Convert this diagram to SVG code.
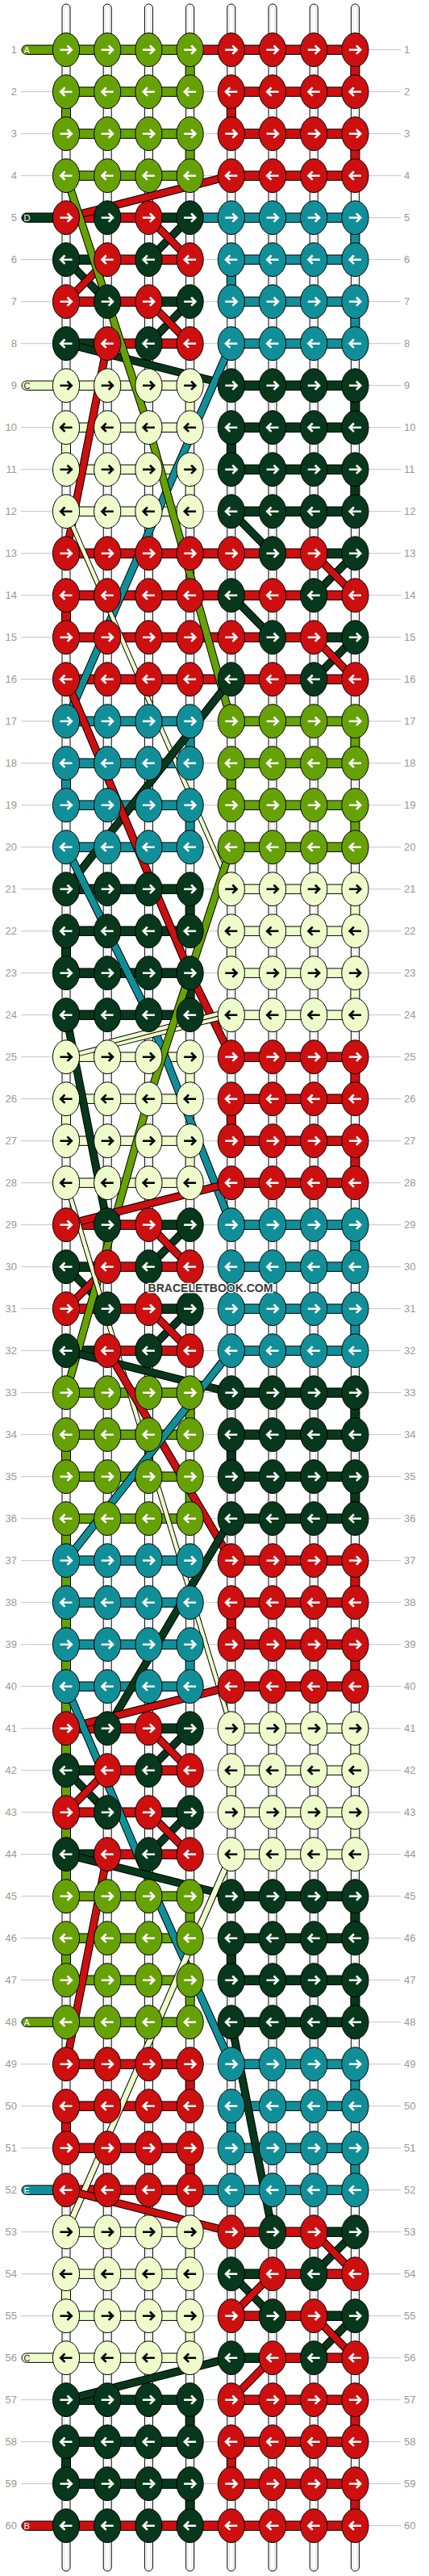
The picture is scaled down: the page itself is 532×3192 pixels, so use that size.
<svg xmlns="http://www.w3.org/2000/svg" xmlns:xlink="http://www.w3.org/1999/xlink" width="532" height="3192" viewBox="0 0 532 3192">
<style>
.bt{fill:#fff;stroke:#000;stroke-width:1}
.bi{fill:none;stroke:#e2e2e2;stroke-width:1}
.rl{fill:none;stroke:#c4c4c4;stroke-width:1}
.G{fill:#66a105}.R{fill:#cd0f0f}.D{fill:#07381b}.T{fill:#118f99}.Y{fill:#eefccb;color:#000}
.c{stroke:#000;stroke-width:1}
.o{fill:none;stroke:#000;stroke-width:10;stroke-linejoin:round}
.lG{fill:none;stroke:#66a105;stroke-width:8;stroke-linejoin:round}
.lR{fill:none;stroke:#cd0f0f;stroke-width:8;stroke-linejoin:round}
.lD{fill:none;stroke:#07381b;stroke-width:8;stroke-linejoin:round}
.lT{fill:none;stroke:#118f99;stroke-width:8;stroke-linejoin:round}
.ot{fill:none;stroke:#000;stroke-width:6.5}
.lY{fill:none;stroke:#eefccb;stroke-width:4.5}
.num{font-family:"Liberation Sans",Arial,sans-serif;font-size:13px;fill:#999}
.ln{text-anchor:end}
.lab{font-family:"Liberation Sans",Arial,sans-serif;font-size:11px;fill:#fff}
.wm{font-family:"Liberation Sans",Arial,sans-serif;font-weight:bold;font-size:14px;fill:#3a3a3a;stroke:#fff;stroke-width:2.5;paint-order:stroke;text-anchor:middle}
</style>
<defs>
<g id="kr"><ellipse rx="16.6" ry="20.9" stroke="#000" stroke-width="1"/><path d="M-7.5,0H6M1.5,-5.2L6.8,0L1.5,5.2" fill="none" stroke="currentColor" stroke-width="2.6"/></g>
<g id="kl"><ellipse rx="16.6" ry="20.9" stroke="#000" stroke-width="1"/><path d="M7.5,0H-6M-1.5,-5.2L-6.8,0L-1.5,5.2" fill="none" stroke="currentColor" stroke-width="2.6"/></g>
</defs>
<rect width="532" height="3192" fill="#fff"/>
<g id="guides">
<path class="rl" d="M26,61.7H497M26,113.7H497M26,165.7H497M26,217.7H497M26,269.7H497M26,321.7H497M26,373.7H497M26,425.7H497M26,477.7H497M26,529.7H497M26,581.7H497M26,633.7H497M26,685.7H497M26,737.7H497M26,789.7H497M26,841.7H497M26,893.7H497M26,945.7H497M26,997.7H497M26,1049.7H497M26,1101.7H497M26,1153.7H497M26,1205.7H497M26,1257.7H497M26,1309.7H497M26,1361.7H497M26,1413.7H497M26,1465.7H497M26,1517.7H497M26,1569.7H497M26,1621.7H497M26,1673.7H497M26,1725.7H497M26,1777.7H497M26,1829.7H497M26,1881.7H497M26,1933.7H497M26,1985.7H497M26,2037.7H497M26,2089.7H497M26,2141.7H497M26,2193.7H497M26,2245.7H497M26,2297.7H497M26,2349.7H497M26,2401.7H497M26,2453.7H497M26,2505.7H497M26,2557.7H497M26,2609.7H497M26,2661.7H497M26,2713.7H497M26,2765.7H497M26,2817.7H497M26,2869.7H497M26,2921.7H497M26,2973.7H497M26,3025.7H497M26,3077.7H497M26,3129.7H497"/>
</g>
<g id="base-threads">
<rect class="bt" x="77" y="5" width="10" height="3181" rx="5"/><rect class="bi" x="79.5" y="8" width="5" height="3175" rx="2.5"/>
<rect class="bt" x="128.2" y="5" width="10" height="3181" rx="5"/><rect class="bi" x="130.7" y="8" width="5" height="3175" rx="2.5"/>
<rect class="bt" x="179.4" y="5" width="10" height="3181" rx="5"/><rect class="bi" x="181.9" y="8" width="5" height="3175" rx="2.5"/>
<rect class="bt" x="230.6" y="5" width="10" height="3181" rx="5"/><rect class="bi" x="233.1" y="8" width="5" height="3175" rx="2.5"/>
<rect class="bt" x="281.8" y="5" width="10" height="3181" rx="5"/><rect class="bi" x="284.3" y="8" width="5" height="3175" rx="2.5"/>
<rect class="bt" x="333" y="5" width="10" height="3181" rx="5"/><rect class="bi" x="335.5" y="8" width="5" height="3175" rx="2.5"/>
<rect class="bt" x="384.2" y="5" width="10" height="3181" rx="5"/><rect class="bi" x="386.7" y="8" width="5" height="3175" rx="2.5"/>
<rect class="bt" x="435.4" y="5" width="10" height="3181" rx="5"/><rect class="bi" x="437.9" y="8" width="5" height="3175" rx="2.5"/>
</g>
<g id="labels">
<g id="strand-A1"><rect class="c G" x="27" y="56" width="50" height="11.4" rx="5.7"/><text class="lab" x="29.5" y="65.7">A</text></g>
<g id="strand-D5"><rect class="c D" x="27" y="264" width="50" height="11.4" rx="5.7"/><text class="lab" x="29.5" y="273.7">D</text></g>
<g id="strand-C9"><rect class="c Y" x="27" y="472" width="50" height="11.4" rx="5.7"/><text class="lab" x="29.5" y="481.7" style="fill:#222">C</text></g>
<g id="strand-A48"><rect class="c G" x="27" y="2500" width="50" height="11.4" rx="5.7"/><text class="lab" x="29.5" y="2509.7">A</text></g>
<g id="strand-E52"><rect class="c T" x="27" y="2708" width="50" height="11.4" rx="5.7"/><text class="lab" x="29.5" y="2717.7">E</text></g>
<g id="strand-C56"><rect class="c Y" x="27" y="2916" width="50" height="11.4" rx="5.7"/><text class="lab" x="29.5" y="2925.7" style="fill:#222">C</text></g>
<g id="strand-B60"><rect class="c R" x="27" y="3124" width="50" height="11.4" rx="5.7"/><text class="lab" x="29.5" y="3133.7">B</text></g>
</g>
<g id="connectors">
<g id="horizontal">
<rect class="c G" x="82" y="56" width="153.6" height="11.4"/><rect class="c R" x="235.6" y="56" width="204.8" height="11.4"/>
<rect class="c G" x="82" y="108" width="153.6" height="11.4"/><rect class="c R" x="286.8" y="108" width="153.6" height="11.4"/>
<rect class="c G" x="82" y="160" width="153.6" height="11.4"/><rect class="c R" x="286.8" y="160" width="153.6" height="11.4"/>
<rect class="c G" x="82" y="212" width="153.6" height="11.4"/><rect class="c R" x="286.8" y="212" width="153.6" height="11.4"/>
<rect class="c R" x="82" y="264" width="102.4" height="11.4"/><rect class="c D" x="184.4" y="264" width="51.2" height="11.4"/><rect class="c T" x="235.6" y="264" width="204.8" height="11.4"/>
<rect class="c D" x="82" y="316" width="51.2" height="11.4"/><rect class="c R" x="133.2" y="316" width="102.4" height="11.4"/><rect class="c T" x="286.8" y="316" width="153.6" height="11.4"/>
<rect class="c R" x="82" y="368" width="102.4" height="11.4"/><rect class="c D" x="184.4" y="368" width="51.2" height="11.4"/><rect class="c T" x="286.8" y="368" width="153.6" height="11.4"/>
<rect class="c D" x="82" y="420" width="51.2" height="11.4"/><rect class="c R" x="133.2" y="420" width="102.4" height="11.4"/><rect class="c T" x="286.8" y="420" width="153.6" height="11.4"/>
<rect class="c Y" x="82" y="472" width="153.6" height="11.4"/><rect class="c D" x="286.8" y="472" width="153.6" height="11.4"/>
<rect class="c Y" x="82" y="524" width="153.6" height="11.4"/><rect class="c D" x="286.8" y="524" width="153.6" height="11.4"/>
<rect class="c Y" x="82" y="576" width="153.6" height="11.4"/><rect class="c D" x="286.8" y="576" width="153.6" height="11.4"/>
<rect class="c Y" x="82" y="628" width="153.6" height="11.4"/><rect class="c D" x="286.8" y="628" width="153.6" height="11.4"/>
<rect class="c R" x="82" y="680" width="307.2" height="11.4"/><rect class="c D" x="389.2" y="680" width="51.2" height="11.4"/>
<rect class="c R" x="82" y="732" width="358.4" height="11.4"/>
<rect class="c R" x="82" y="784" width="307.2" height="11.4"/><rect class="c D" x="389.2" y="784" width="51.2" height="11.4"/>
<rect class="c R" x="82" y="836" width="358.4" height="11.4"/>
<rect class="c T" x="82" y="888" width="153.6" height="11.4"/><rect class="c G" x="286.8" y="888" width="153.6" height="11.4"/>
<rect class="c T" x="82" y="940" width="153.6" height="11.4"/><rect class="c G" x="286.8" y="940" width="153.6" height="11.4"/>
<rect class="c T" x="82" y="992" width="153.6" height="11.4"/><rect class="c G" x="286.8" y="992" width="153.6" height="11.4"/>
<rect class="c T" x="82" y="1044" width="153.6" height="11.4"/><rect class="c G" x="286.8" y="1044" width="153.6" height="11.4"/>
<rect class="c D" x="82" y="1096" width="153.6" height="11.4"/><rect class="c Y" x="286.8" y="1096" width="153.6" height="11.4"/>
<rect class="c D" x="82" y="1148" width="153.6" height="11.4"/><rect class="c Y" x="286.8" y="1148" width="153.6" height="11.4"/>
<rect class="c D" x="82" y="1200" width="153.6" height="11.4"/><rect class="c Y" x="286.8" y="1200" width="153.6" height="11.4"/>
<rect class="c D" x="82" y="1252" width="153.6" height="11.4"/><rect class="c Y" x="286.8" y="1252" width="153.6" height="11.4"/>
<rect class="c Y" x="82" y="1304" width="153.6" height="11.4"/><rect class="c R" x="286.8" y="1304" width="153.6" height="11.4"/>
<rect class="c Y" x="82" y="1356" width="153.6" height="11.4"/><rect class="c R" x="286.8" y="1356" width="153.6" height="11.4"/>
<rect class="c Y" x="82" y="1408" width="153.6" height="11.4"/><rect class="c R" x="286.8" y="1408" width="153.6" height="11.4"/>
<rect class="c Y" x="82" y="1460" width="153.6" height="11.4"/><rect class="c R" x="286.8" y="1460" width="153.6" height="11.4"/>
<rect class="c R" x="82" y="1512" width="102.4" height="11.4"/><rect class="c D" x="184.4" y="1512" width="51.2" height="11.4"/><rect class="c T" x="286.8" y="1512" width="153.6" height="11.4"/>
<rect class="c D" x="82" y="1564" width="51.2" height="11.4"/><rect class="c R" x="133.2" y="1564" width="102.4" height="11.4"/><rect class="c T" x="286.8" y="1564" width="153.6" height="11.4"/>
<rect class="c R" x="82" y="1616" width="102.4" height="11.4"/><rect class="c D" x="184.4" y="1616" width="51.2" height="11.4"/><rect class="c T" x="286.8" y="1616" width="153.6" height="11.4"/>
<rect class="c D" x="82" y="1668" width="51.2" height="11.4"/><rect class="c R" x="133.2" y="1668" width="102.4" height="11.4"/><rect class="c T" x="286.8" y="1668" width="153.6" height="11.4"/>
<rect class="c G" x="82" y="1720" width="153.6" height="11.4"/><rect class="c D" x="286.8" y="1720" width="153.6" height="11.4"/>
<rect class="c G" x="82" y="1772" width="153.6" height="11.4"/><rect class="c D" x="286.8" y="1772" width="153.6" height="11.4"/>
<rect class="c G" x="82" y="1824" width="153.6" height="11.4"/><rect class="c D" x="286.8" y="1824" width="153.6" height="11.4"/>
<rect class="c G" x="82" y="1876" width="153.6" height="11.4"/><rect class="c D" x="286.8" y="1876" width="153.6" height="11.4"/>
<rect class="c T" x="82" y="1928" width="153.6" height="11.4"/><rect class="c R" x="286.8" y="1928" width="153.6" height="11.4"/>
<rect class="c T" x="82" y="1980" width="153.6" height="11.4"/><rect class="c R" x="286.8" y="1980" width="153.6" height="11.4"/>
<rect class="c T" x="82" y="2032" width="153.6" height="11.4"/><rect class="c R" x="286.8" y="2032" width="153.6" height="11.4"/>
<rect class="c T" x="82" y="2084" width="153.6" height="11.4"/><rect class="c R" x="286.8" y="2084" width="153.6" height="11.4"/>
<rect class="c R" x="82" y="2136" width="102.4" height="11.4"/><rect class="c D" x="184.4" y="2136" width="51.2" height="11.4"/><rect class="c Y" x="286.8" y="2136" width="153.6" height="11.4"/>
<rect class="c D" x="82" y="2188" width="51.2" height="11.4"/><rect class="c R" x="133.2" y="2188" width="102.4" height="11.4"/><rect class="c Y" x="286.8" y="2188" width="153.6" height="11.4"/>
<rect class="c R" x="82" y="2240" width="102.4" height="11.4"/><rect class="c D" x="184.4" y="2240" width="51.2" height="11.4"/><rect class="c Y" x="286.8" y="2240" width="153.6" height="11.4"/>
<rect class="c D" x="82" y="2292" width="51.2" height="11.4"/><rect class="c R" x="133.2" y="2292" width="102.4" height="11.4"/><rect class="c Y" x="286.8" y="2292" width="153.6" height="11.4"/>
<rect class="c G" x="82" y="2344" width="153.6" height="11.4"/><rect class="c D" x="286.8" y="2344" width="153.6" height="11.4"/>
<rect class="c G" x="82" y="2396" width="153.6" height="11.4"/><rect class="c D" x="286.8" y="2396" width="153.6" height="11.4"/>
<rect class="c G" x="82" y="2448" width="153.6" height="11.4"/><rect class="c D" x="286.8" y="2448" width="153.6" height="11.4"/>
<rect class="c G" x="82" y="2500" width="153.6" height="11.4"/><rect class="c D" x="286.8" y="2500" width="153.6" height="11.4"/>
<rect class="c R" x="82" y="2552" width="153.6" height="11.4"/><rect class="c T" x="286.8" y="2552" width="153.6" height="11.4"/>
<rect class="c R" x="82" y="2604" width="153.6" height="11.4"/><rect class="c T" x="286.8" y="2604" width="153.6" height="11.4"/>
<rect class="c R" x="82" y="2656" width="153.6" height="11.4"/><rect class="c T" x="286.8" y="2656" width="153.6" height="11.4"/>
<rect class="c R" x="82" y="2708" width="153.6" height="11.4"/><rect class="c T" x="235.6" y="2708" width="204.8" height="11.4"/>
<rect class="c Y" x="82" y="2760" width="153.6" height="11.4"/><rect class="c R" x="286.8" y="2760" width="102.4" height="11.4"/><rect class="c D" x="389.2" y="2760" width="51.2" height="11.4"/>
<rect class="c Y" x="82" y="2812" width="153.6" height="11.4"/><rect class="c D" x="286.8" y="2812" width="51.2" height="11.4"/><rect class="c R" x="338" y="2812" width="102.4" height="11.4"/>
<rect class="c Y" x="82" y="2864" width="153.6" height="11.4"/><rect class="c R" x="286.8" y="2864" width="102.4" height="11.4"/><rect class="c D" x="389.2" y="2864" width="51.2" height="11.4"/>
<rect class="c Y" x="82" y="2916" width="153.6" height="11.4"/><rect class="c D" x="286.8" y="2916" width="51.2" height="11.4"/><rect class="c R" x="338" y="2916" width="102.4" height="11.4"/>
<rect class="c D" x="82" y="2968" width="153.6" height="11.4"/><rect class="c R" x="286.8" y="2968" width="153.6" height="11.4"/>
<rect class="c D" x="82" y="3020" width="153.6" height="11.4"/><rect class="c R" x="286.8" y="3020" width="153.6" height="11.4"/>
<rect class="c D" x="82" y="3072" width="153.6" height="11.4"/><rect class="c R" x="286.8" y="3072" width="153.6" height="11.4"/>
<rect class="c R" x="82" y="3124" width="358.4" height="11.4"/>
</g>
<g id="vertical">
<rect class="c G" x="230.1" y="61.7" width="11" height="52"/><rect class="c R" x="434.9" y="61.7" width="11" height="52"/>
<rect class="c G" x="76.5" y="113.7" width="11" height="52"/><rect class="c R" x="281.3" y="113.7" width="11" height="52"/>
<rect class="c G" x="230.1" y="165.7" width="11" height="52"/><rect class="c R" x="434.9" y="165.7" width="11" height="52"/>
<rect class="c T" x="434.9" y="269.7" width="11" height="52"/>
<rect class="c T" x="281.3" y="321.7" width="11" height="52"/>
<rect class="c T" x="434.9" y="373.7" width="11" height="52"/>
<rect class="c Y" x="230.1" y="477.7" width="11" height="52"/><rect class="c D" x="434.9" y="477.7" width="11" height="52"/>
<rect class="c Y" x="76.5" y="529.7" width="11" height="52"/><rect class="c D" x="281.3" y="529.7" width="11" height="52"/>
<rect class="c Y" x="230.1" y="581.7" width="11" height="52"/><rect class="c D" x="434.9" y="581.7" width="11" height="52"/>
<rect class="c R" x="76.5" y="737.7" width="11" height="52"/>
<rect class="c T" x="230.1" y="893.7" width="11" height="52"/><rect class="c G" x="434.9" y="893.7" width="11" height="52"/>
<rect class="c T" x="76.5" y="945.7" width="11" height="52"/><rect class="c G" x="281.3" y="945.7" width="11" height="52"/>
<rect class="c T" x="230.1" y="997.7" width="11" height="52"/><rect class="c G" x="434.9" y="997.7" width="11" height="52"/>
<rect class="c D" x="230.1" y="1101.7" width="11" height="52"/><rect class="c Y" x="434.9" y="1101.7" width="11" height="52"/>
<rect class="c D" x="76.5" y="1153.7" width="11" height="52"/><rect class="c Y" x="281.3" y="1153.7" width="11" height="52"/>
<rect class="c D" x="230.1" y="1205.7" width="11" height="52"/><rect class="c Y" x="434.9" y="1205.7" width="11" height="52"/>
<rect class="c Y" x="230.1" y="1309.7" width="11" height="52"/><rect class="c R" x="434.9" y="1309.7" width="11" height="52"/>
<rect class="c Y" x="76.5" y="1361.7" width="11" height="52"/><rect class="c R" x="281.3" y="1361.7" width="11" height="52"/>
<rect class="c Y" x="230.1" y="1413.7" width="11" height="52"/><rect class="c R" x="434.9" y="1413.7" width="11" height="52"/>
<rect class="c T" x="434.9" y="1517.7" width="11" height="52"/>
<rect class="c T" x="281.3" y="1569.7" width="11" height="52"/>
<rect class="c T" x="434.9" y="1621.7" width="11" height="52"/>
<rect class="c G" x="230.1" y="1725.7" width="11" height="52"/><rect class="c D" x="434.9" y="1725.7" width="11" height="52"/>
<rect class="c G" x="76.5" y="1777.7" width="11" height="52"/><rect class="c D" x="281.3" y="1777.7" width="11" height="52"/>
<rect class="c G" x="230.1" y="1829.7" width="11" height="52"/><rect class="c D" x="434.9" y="1829.7" width="11" height="52"/>
<rect class="c G" x="76.5" y="1881.7" width="11" height="468"/>
<rect class="c R" x="434.9" y="1933.7" width="11" height="52"/>
<rect class="c R" x="281.3" y="1985.7" width="11" height="52"/>
<rect class="c T" x="230.1" y="2037.7" width="11" height="52"/><rect class="c R" x="434.9" y="2037.7" width="11" height="52"/>
<rect class="c Y" x="434.9" y="2141.7" width="11" height="52"/>
<rect class="c Y" x="281.3" y="2193.7" width="11" height="52"/>
<rect class="c Y" x="434.9" y="2245.7" width="11" height="52"/>
<rect class="c G" x="230.1" y="2349.7" width="11" height="52"/><rect class="c D" x="434.9" y="2349.7" width="11" height="52"/>
<rect class="c G" x="76.5" y="2401.7" width="11" height="52"/><rect class="c D" x="281.3" y="2401.7" width="11" height="52"/>
<rect class="c G" x="230.1" y="2453.7" width="11" height="52"/><rect class="c D" x="434.9" y="2453.7" width="11" height="52"/>
<rect class="c R" x="230.1" y="2557.7" width="11" height="52"/><rect class="c T" x="434.9" y="2557.7" width="11" height="52"/>
<rect class="c R" x="76.5" y="2609.7" width="11" height="52"/><rect class="c T" x="281.3" y="2609.7" width="11" height="52"/>
<rect class="c R" x="230.1" y="2661.7" width="11" height="52"/><rect class="c T" x="434.9" y="2661.7" width="11" height="52"/>
<rect class="c Y" x="230.1" y="2765.7" width="11" height="52"/>
<rect class="c Y" x="76.5" y="2817.7" width="11" height="52"/>
<rect class="c Y" x="230.1" y="2869.7" width="11" height="52"/>
<rect class="c D" x="230.1" y="2973.7" width="11" height="52"/><rect class="c R" x="434.9" y="2973.7" width="11" height="52"/>
<rect class="c D" x="76.5" y="3025.7" width="11" height="52"/><rect class="c R" x="281.3" y="3025.7" width="11" height="52"/>
<rect class="c D" x="230.1" y="3077.7" width="11" height="52"/><rect class="c R" x="434.9" y="3077.7" width="11" height="52"/>
</g>
<g id="crossings">
<path class="o" d="M235.6,269.7L184.4,321.7"/><path class="lD" d="M235.6,269.7L184.4,321.7"/>
<path class="o" d="M184.4,269.7L235.6,321.7"/><path class="lR" d="M184.4,269.7L235.6,321.7"/>
<path class="o" d="M82,321.7L133.2,373.7"/><path class="lD" d="M82,321.7L133.2,373.7"/>
<path class="o" d="M133.2,321.7L82,373.7"/><path class="lR" d="M133.2,321.7L82,373.7"/>
<path class="o" d="M235.6,373.7L184.4,425.7"/><path class="lD" d="M235.6,373.7L184.4,425.7"/>
<path class="o" d="M184.4,373.7L235.6,425.7"/><path class="lR" d="M184.4,373.7L235.6,425.7"/>
<path class="o" d="M286.8,633.7L338,685.7"/><path class="lD" d="M286.8,633.7L338,685.7"/>
<path class="o" d="M440.4,685.7L389.2,737.7"/><path class="lD" d="M440.4,685.7L389.2,737.7"/>
<path class="o" d="M389.2,685.7L440.4,737.7"/><path class="lR" d="M389.2,685.7L440.4,737.7"/>
<path class="o" d="M286.8,737.7L338,789.7"/><path class="lD" d="M286.8,737.7L338,789.7"/>
<path class="o" d="M440.4,789.7L389.2,841.7"/><path class="lD" d="M440.4,789.7L389.2,841.7"/>
<path class="o" d="M389.2,789.7L440.4,841.7"/><path class="lR" d="M389.2,789.7L440.4,841.7"/>
<path class="o" d="M235.6,1517.7L184.4,1569.7"/><path class="lD" d="M235.6,1517.7L184.4,1569.7"/>
<path class="o" d="M184.4,1517.7L235.6,1569.7"/><path class="lR" d="M184.4,1517.7L235.6,1569.7"/>
<path class="o" d="M82,1569.7L133.2,1621.7"/><path class="lD" d="M82,1569.7L133.2,1621.7"/>
<path class="o" d="M133.2,1569.7L82,1621.7"/><path class="lR" d="M133.2,1569.7L82,1621.7"/>
<path class="o" d="M235.6,1621.7L184.4,1673.7"/><path class="lD" d="M235.6,1621.7L184.4,1673.7"/>
<path class="o" d="M184.4,1621.7L235.6,1673.7"/><path class="lR" d="M184.4,1621.7L235.6,1673.7"/>
<path class="o" d="M235.6,2141.7L184.4,2193.7"/><path class="lD" d="M235.6,2141.7L184.4,2193.7"/>
<path class="o" d="M184.4,2141.7L235.6,2193.7"/><path class="lR" d="M184.4,2141.7L235.6,2193.7"/>
<path class="o" d="M82,2193.7L133.2,2245.7"/><path class="lD" d="M82,2193.7L133.2,2245.7"/>
<path class="o" d="M133.2,2193.7L82,2245.7"/><path class="lR" d="M133.2,2193.7L82,2245.7"/>
<path class="o" d="M235.6,2245.7L184.4,2297.7"/><path class="lD" d="M235.6,2245.7L184.4,2297.7"/>
<path class="o" d="M184.4,2245.7L235.6,2297.7"/><path class="lR" d="M184.4,2245.7L235.6,2297.7"/>
<path class="o" d="M440.4,2765.7L389.2,2817.7"/><path class="lD" d="M440.4,2765.7L389.2,2817.7"/>
<path class="o" d="M389.2,2765.7L440.4,2817.7"/><path class="lR" d="M389.2,2765.7L440.4,2817.7"/>
<path class="o" d="M286.8,2817.7L338,2869.7"/><path class="lD" d="M286.8,2817.7L338,2869.7"/>
<path class="o" d="M338,2817.7L286.8,2869.7"/><path class="lR" d="M338,2817.7L286.8,2869.7"/>
<path class="o" d="M440.4,2869.7L389.2,2921.7"/><path class="lD" d="M440.4,2869.7L389.2,2921.7"/>
<path class="o" d="M389.2,2869.7L440.4,2921.7"/><path class="lR" d="M389.2,2869.7L440.4,2921.7"/>
<path class="o" d="M338,2921.7L286.8,2973.7"/><path class="lR" d="M338,2921.7L286.8,2973.7"/>
</g>
<g id="carried">
<path class="o" d="M286.8,217.7L82,269.7"/><path class="lR" d="M286.8,217.7L82,269.7"/>
<path class="o" d="M82,425.7L286.8,477.7"/><path class="lD" d="M82,425.7L286.8,477.7"/>
<path class="o" d="M133.2,425.7L82,685.7"/><path class="lR" d="M133.2,425.7L82,685.7"/>
<path class="o" d="M286.8,425.7L82,893.7"/><path class="lT" d="M286.8,425.7L82,893.7"/>
<path class="o" d="M82,217.7L184.4,529.7L286.8,893.7"/><path class="lG" d="M82,217.7L184.4,529.7L286.8,893.7"/>
<path class="ot" d="M82,633.7L286.8,1101.7"/><path class="lY" d="M82,633.7L286.8,1101.7"/>
<path class="o" d="M286.8,841.7L82,1101.7"/><path class="lD" d="M286.8,841.7L82,1101.7"/>
<path class="o" d="M82,841.7L235.6,1205.7L286.8,1309.7"/><path class="lR" d="M82,841.7L235.6,1205.7L286.8,1309.7"/>
<path class="o" d="M82,1049.7L184.4,1257.7L286.8,1517.7"/><path class="lT" d="M82,1049.7L184.4,1257.7L286.8,1517.7"/>
<path class="ot" d="M286.8,1257.7L82,1309.7"/><path class="lY" d="M286.8,1257.7L82,1309.7"/>
<path class="ot" d="M286.8,1252L136,1291"/><path class="lY" d="M286.8,1252L136,1291"/>
<path class="o" d="M82,1257.7L133.2,1517.7"/><path class="lD" d="M82,1257.7L133.2,1517.7"/>
<path class="o" d="M286.8,1049.7L184.4,1361.7L82,1725.7"/><path class="lG" d="M286.8,1049.7L184.4,1361.7L82,1725.7"/>
<path class="o" d="M286.8,1465.7L82,1517.7"/><path class="lR" d="M286.8,1465.7L82,1517.7"/>
<path class="ot" d="M82,1465.7L286.8,2141.7"/><path class="lY" d="M82,1465.7L286.8,2141.7"/>
<path class="o" d="M82,1673.7L286.8,1725.7"/><path class="lD" d="M82,1673.7L286.8,1725.7"/>
<path class="o" d="M133.2,1673.7L286.8,1933.7"/><path class="lR" d="M133.2,1673.7L286.8,1933.7"/>
<path class="o" d="M286.8,1673.7L82,1933.7"/><path class="lT" d="M286.8,1673.7L82,1933.7"/>
<path class="o" d="M286.8,1881.7L133.2,2141.7"/><path class="lD" d="M286.8,1881.7L133.2,2141.7"/>
<path class="o" d="M286.8,2089.7L82,2141.7"/><path class="lR" d="M286.8,2089.7L82,2141.7"/>
<path class="o" d="M82,2089.7L180,2320L286.8,2557.7"/><path class="lT" d="M82,2089.7L180,2320L286.8,2557.7"/>
<path class="o" d="M82,2297.7L286.8,2349.7"/><path class="lD" d="M82,2297.7L286.8,2349.7"/>
<path class="o" d="M133.2,2297.7L82,2557.7"/><path class="lR" d="M133.2,2297.7L82,2557.7"/>
<path class="ot" d="M286.8,2297.7L82,2765.7" style="stroke-width:8.5"/><path class="lY" d="M286.8,2297.7L82,2765.7" style="stroke-width:6.5"/>
<path class="o" d="M286.8,2505.7L338,2765.7"/><path class="lD" d="M286.8,2505.7L338,2765.7"/>
<path class="o" d="M82,2713.7L286.8,2765.7"/><path class="lR" d="M82,2713.7L286.8,2765.7"/>
<path class="o" d="M286.8,2921.7L82,2973.7"/><path class="lD" d="M286.8,2921.7L82,2973.7"/>
</g>
</g>
<g id="knots" style="color:#fff">
<g id="row1" transform="translate(0,61.7)"><g id="n1-1" class="G"><use href="#kr" x="82"/></g><g id="n1-2" class="G"><use href="#kr" x="133.2"/></g><g id="n1-3" class="G"><use href="#kr" x="184.4"/></g><g id="n1-4" class="G"><use href="#kr" x="235.6"/></g><g id="n1-5" class="R"><use href="#kr" x="286.8"/></g><g id="n1-6" class="R"><use href="#kr" x="338"/></g><g id="n1-7" class="R"><use href="#kr" x="389.2"/></g><g id="n1-8" class="R"><use href="#kr" x="440.4"/></g></g>
<g id="row2" transform="translate(0,113.7)"><g id="n2-1" class="G"><use href="#kl" x="82"/></g><g id="n2-2" class="G"><use href="#kl" x="133.2"/></g><g id="n2-3" class="G"><use href="#kl" x="184.4"/></g><g id="n2-4" class="G"><use href="#kl" x="235.6"/></g><g id="n2-5" class="R"><use href="#kl" x="286.8"/></g><g id="n2-6" class="R"><use href="#kl" x="338"/></g><g id="n2-7" class="R"><use href="#kl" x="389.2"/></g><g id="n2-8" class="R"><use href="#kl" x="440.4"/></g></g>
<g id="row3" transform="translate(0,165.7)"><g id="n3-1" class="G"><use href="#kr" x="82"/></g><g id="n3-2" class="G"><use href="#kr" x="133.2"/></g><g id="n3-3" class="G"><use href="#kr" x="184.4"/></g><g id="n3-4" class="G"><use href="#kr" x="235.6"/></g><g id="n3-5" class="R"><use href="#kr" x="286.8"/></g><g id="n3-6" class="R"><use href="#kr" x="338"/></g><g id="n3-7" class="R"><use href="#kr" x="389.2"/></g><g id="n3-8" class="R"><use href="#kr" x="440.4"/></g></g>
<g id="row4" transform="translate(0,217.7)"><g id="n4-1" class="G"><use href="#kl" x="82"/></g><g id="n4-2" class="G"><use href="#kl" x="133.2"/></g><g id="n4-3" class="G"><use href="#kl" x="184.4"/></g><g id="n4-4" class="G"><use href="#kl" x="235.6"/></g><g id="n4-5" class="R"><use href="#kl" x="286.8"/></g><g id="n4-6" class="R"><use href="#kl" x="338"/></g><g id="n4-7" class="R"><use href="#kl" x="389.2"/></g><g id="n4-8" class="R"><use href="#kl" x="440.4"/></g></g>
<g id="row5" transform="translate(0,269.7)"><g id="n5-1" class="R"><use href="#kr" x="82"/></g><g id="n5-2" class="D"><use href="#kr" x="133.2"/></g><g id="n5-3" class="R"><use href="#kr" x="184.4"/></g><g id="n5-4" class="D"><use href="#kr" x="235.6"/></g><g id="n5-5" class="T"><use href="#kr" x="286.8"/></g><g id="n5-6" class="T"><use href="#kr" x="338"/></g><g id="n5-7" class="T"><use href="#kr" x="389.2"/></g><g id="n5-8" class="T"><use href="#kr" x="440.4"/></g></g>
<g id="row6" transform="translate(0,321.7)"><g id="n6-1" class="D"><use href="#kl" x="82"/></g><g id="n6-2" class="R"><use href="#kl" x="133.2"/></g><g id="n6-3" class="D"><use href="#kl" x="184.4"/></g><g id="n6-4" class="R"><use href="#kl" x="235.6"/></g><g id="n6-5" class="T"><use href="#kl" x="286.8"/></g><g id="n6-6" class="T"><use href="#kl" x="338"/></g><g id="n6-7" class="T"><use href="#kl" x="389.2"/></g><g id="n6-8" class="T"><use href="#kl" x="440.4"/></g></g>
<g id="row7" transform="translate(0,373.7)"><g id="n7-1" class="R"><use href="#kr" x="82"/></g><g id="n7-2" class="D"><use href="#kr" x="133.2"/></g><g id="n7-3" class="R"><use href="#kr" x="184.4"/></g><g id="n7-4" class="D"><use href="#kr" x="235.6"/></g><g id="n7-5" class="T"><use href="#kr" x="286.8"/></g><g id="n7-6" class="T"><use href="#kr" x="338"/></g><g id="n7-7" class="T"><use href="#kr" x="389.2"/></g><g id="n7-8" class="T"><use href="#kr" x="440.4"/></g></g>
<g id="row8" transform="translate(0,425.7)"><g id="n8-1" class="D"><use href="#kl" x="82"/></g><g id="n8-2" class="R"><use href="#kl" x="133.2"/></g><g id="n8-3" class="D"><use href="#kl" x="184.4"/></g><g id="n8-4" class="R"><use href="#kl" x="235.6"/></g><g id="n8-5" class="T"><use href="#kl" x="286.8"/></g><g id="n8-6" class="T"><use href="#kl" x="338"/></g><g id="n8-7" class="T"><use href="#kl" x="389.2"/></g><g id="n8-8" class="T"><use href="#kl" x="440.4"/></g></g>
<g id="row9" transform="translate(0,477.7)"><g id="n9-1" class="Y"><use href="#kr" x="82"/></g><g id="n9-2" class="Y"><use href="#kr" x="133.2"/></g><g id="n9-3" class="Y"><use href="#kr" x="184.4"/></g><g id="n9-4" class="Y"><use href="#kr" x="235.6"/></g><g id="n9-5" class="D"><use href="#kr" x="286.8"/></g><g id="n9-6" class="D"><use href="#kr" x="338"/></g><g id="n9-7" class="D"><use href="#kr" x="389.2"/></g><g id="n9-8" class="D"><use href="#kr" x="440.4"/></g></g>
<g id="row10" transform="translate(0,529.7)"><g id="n10-1" class="Y"><use href="#kl" x="82"/></g><g id="n10-2" class="Y"><use href="#kl" x="133.2"/></g><g id="n10-3" class="Y"><use href="#kl" x="184.4"/></g><g id="n10-4" class="Y"><use href="#kl" x="235.6"/></g><g id="n10-5" class="D"><use href="#kl" x="286.8"/></g><g id="n10-6" class="D"><use href="#kl" x="338"/></g><g id="n10-7" class="D"><use href="#kl" x="389.2"/></g><g id="n10-8" class="D"><use href="#kl" x="440.4"/></g></g>
<g id="row11" transform="translate(0,581.7)"><g id="n11-1" class="Y"><use href="#kr" x="82"/></g><g id="n11-2" class="Y"><use href="#kr" x="133.2"/></g><g id="n11-3" class="Y"><use href="#kr" x="184.4"/></g><g id="n11-4" class="Y"><use href="#kr" x="235.6"/></g><g id="n11-5" class="D"><use href="#kr" x="286.8"/></g><g id="n11-6" class="D"><use href="#kr" x="338"/></g><g id="n11-7" class="D"><use href="#kr" x="389.2"/></g><g id="n11-8" class="D"><use href="#kr" x="440.4"/></g></g>
<g id="row12" transform="translate(0,633.7)"><g id="n12-1" class="Y"><use href="#kl" x="82"/></g><g id="n12-2" class="Y"><use href="#kl" x="133.2"/></g><g id="n12-3" class="Y"><use href="#kl" x="184.4"/></g><g id="n12-4" class="Y"><use href="#kl" x="235.6"/></g><g id="n12-5" class="D"><use href="#kl" x="286.8"/></g><g id="n12-6" class="D"><use href="#kl" x="338"/></g><g id="n12-7" class="D"><use href="#kl" x="389.2"/></g><g id="n12-8" class="D"><use href="#kl" x="440.4"/></g></g>
<g id="row13" transform="translate(0,685.7)"><g id="n13-1" class="R"><use href="#kr" x="82"/></g><g id="n13-2" class="R"><use href="#kr" x="133.2"/></g><g id="n13-3" class="R"><use href="#kr" x="184.4"/></g><g id="n13-4" class="R"><use href="#kr" x="235.6"/></g><g id="n13-5" class="R"><use href="#kr" x="286.8"/></g><g id="n13-6" class="D"><use href="#kr" x="338"/></g><g id="n13-7" class="R"><use href="#kr" x="389.2"/></g><g id="n13-8" class="D"><use href="#kr" x="440.4"/></g></g>
<g id="row14" transform="translate(0,737.7)"><g id="n14-1" class="R"><use href="#kl" x="82"/></g><g id="n14-2" class="R"><use href="#kl" x="133.2"/></g><g id="n14-3" class="R"><use href="#kl" x="184.4"/></g><g id="n14-4" class="R"><use href="#kl" x="235.6"/></g><g id="n14-5" class="D"><use href="#kl" x="286.8"/></g><g id="n14-6" class="R"><use href="#kl" x="338"/></g><g id="n14-7" class="D"><use href="#kl" x="389.2"/></g><g id="n14-8" class="R"><use href="#kl" x="440.4"/></g></g>
<g id="row15" transform="translate(0,789.7)"><g id="n15-1" class="R"><use href="#kr" x="82"/></g><g id="n15-2" class="R"><use href="#kr" x="133.2"/></g><g id="n15-3" class="R"><use href="#kr" x="184.4"/></g><g id="n15-4" class="R"><use href="#kr" x="235.6"/></g><g id="n15-5" class="R"><use href="#kr" x="286.8"/></g><g id="n15-6" class="D"><use href="#kr" x="338"/></g><g id="n15-7" class="R"><use href="#kr" x="389.2"/></g><g id="n15-8" class="D"><use href="#kr" x="440.4"/></g></g>
<g id="row16" transform="translate(0,841.7)"><g id="n16-1" class="R"><use href="#kl" x="82"/></g><g id="n16-2" class="R"><use href="#kl" x="133.2"/></g><g id="n16-3" class="R"><use href="#kl" x="184.4"/></g><g id="n16-4" class="R"><use href="#kl" x="235.6"/></g><g id="n16-5" class="D"><use href="#kl" x="286.8"/></g><g id="n16-6" class="R"><use href="#kl" x="338"/></g><g id="n16-7" class="D"><use href="#kl" x="389.2"/></g><g id="n16-8" class="R"><use href="#kl" x="440.4"/></g></g>
<g id="row17" transform="translate(0,893.7)"><g id="n17-1" class="T"><use href="#kr" x="82"/></g><g id="n17-2" class="T"><use href="#kr" x="133.2"/></g><g id="n17-3" class="T"><use href="#kr" x="184.4"/></g><g id="n17-4" class="T"><use href="#kr" x="235.6"/></g><g id="n17-5" class="G"><use href="#kr" x="286.8"/></g><g id="n17-6" class="G"><use href="#kr" x="338"/></g><g id="n17-7" class="G"><use href="#kr" x="389.2"/></g><g id="n17-8" class="G"><use href="#kr" x="440.4"/></g></g>
<g id="row18" transform="translate(0,945.7)"><g id="n18-1" class="T"><use href="#kl" x="82"/></g><g id="n18-2" class="T"><use href="#kl" x="133.2"/></g><g id="n18-3" class="T"><use href="#kl" x="184.4"/></g><g id="n18-4" class="T"><use href="#kl" x="235.6"/></g><g id="n18-5" class="G"><use href="#kl" x="286.8"/></g><g id="n18-6" class="G"><use href="#kl" x="338"/></g><g id="n18-7" class="G"><use href="#kl" x="389.2"/></g><g id="n18-8" class="G"><use href="#kl" x="440.4"/></g></g>
<g id="row19" transform="translate(0,997.7)"><g id="n19-1" class="T"><use href="#kr" x="82"/></g><g id="n19-2" class="T"><use href="#kr" x="133.2"/></g><g id="n19-3" class="T"><use href="#kr" x="184.4"/></g><g id="n19-4" class="T"><use href="#kr" x="235.6"/></g><g id="n19-5" class="G"><use href="#kr" x="286.8"/></g><g id="n19-6" class="G"><use href="#kr" x="338"/></g><g id="n19-7" class="G"><use href="#kr" x="389.2"/></g><g id="n19-8" class="G"><use href="#kr" x="440.4"/></g></g>
<g id="row20" transform="translate(0,1049.7)"><g id="n20-1" class="T"><use href="#kl" x="82"/></g><g id="n20-2" class="T"><use href="#kl" x="133.2"/></g><g id="n20-3" class="T"><use href="#kl" x="184.4"/></g><g id="n20-4" class="T"><use href="#kl" x="235.6"/></g><g id="n20-5" class="G"><use href="#kl" x="286.8"/></g><g id="n20-6" class="G"><use href="#kl" x="338"/></g><g id="n20-7" class="G"><use href="#kl" x="389.2"/></g><g id="n20-8" class="G"><use href="#kl" x="440.4"/></g></g>
<g id="row21" transform="translate(0,1101.7)"><g id="n21-1" class="D"><use href="#kr" x="82"/></g><g id="n21-2" class="D"><use href="#kr" x="133.2"/></g><g id="n21-3" class="D"><use href="#kr" x="184.4"/></g><g id="n21-4" class="D"><use href="#kr" x="235.6"/></g><g id="n21-5" class="Y"><use href="#kr" x="286.8"/></g><g id="n21-6" class="Y"><use href="#kr" x="338"/></g><g id="n21-7" class="Y"><use href="#kr" x="389.2"/></g><g id="n21-8" class="Y"><use href="#kr" x="440.4"/></g></g>
<g id="row22" transform="translate(0,1153.7)"><g id="n22-1" class="D"><use href="#kl" x="82"/></g><g id="n22-2" class="D"><use href="#kl" x="133.2"/></g><g id="n22-3" class="D"><use href="#kl" x="184.4"/></g><g id="n22-4" class="D"><use href="#kl" x="235.6"/></g><g id="n22-5" class="Y"><use href="#kl" x="286.8"/></g><g id="n22-6" class="Y"><use href="#kl" x="338"/></g><g id="n22-7" class="Y"><use href="#kl" x="389.2"/></g><g id="n22-8" class="Y"><use href="#kl" x="440.4"/></g></g>
<g id="row23" transform="translate(0,1205.7)"><g id="n23-1" class="D"><use href="#kr" x="82"/></g><g id="n23-2" class="D"><use href="#kr" x="133.2"/></g><g id="n23-3" class="D"><use href="#kr" x="184.4"/></g><g id="n23-4" class="D"><use href="#kr" x="235.6"/></g><g id="n23-5" class="Y"><use href="#kr" x="286.8"/></g><g id="n23-6" class="Y"><use href="#kr" x="338"/></g><g id="n23-7" class="Y"><use href="#kr" x="389.2"/></g><g id="n23-8" class="Y"><use href="#kr" x="440.4"/></g></g>
<g id="row24" transform="translate(0,1257.7)"><g id="n24-1" class="D"><use href="#kl" x="82"/></g><g id="n24-2" class="D"><use href="#kl" x="133.2"/></g><g id="n24-3" class="D"><use href="#kl" x="184.4"/></g><g id="n24-4" class="D"><use href="#kl" x="235.6"/></g><g id="n24-5" class="Y"><use href="#kl" x="286.8"/></g><g id="n24-6" class="Y"><use href="#kl" x="338"/></g><g id="n24-7" class="Y"><use href="#kl" x="389.2"/></g><g id="n24-8" class="Y"><use href="#kl" x="440.4"/></g></g>
<g id="row25" transform="translate(0,1309.7)"><g id="n25-1" class="Y"><use href="#kr" x="82"/></g><g id="n25-2" class="Y"><use href="#kr" x="133.2"/></g><g id="n25-3" class="Y"><use href="#kr" x="184.4"/></g><g id="n25-4" class="Y"><use href="#kr" x="235.6"/></g><g id="n25-5" class="R"><use href="#kr" x="286.8"/></g><g id="n25-6" class="R"><use href="#kr" x="338"/></g><g id="n25-7" class="R"><use href="#kr" x="389.2"/></g><g id="n25-8" class="R"><use href="#kr" x="440.4"/></g></g>
<g id="row26" transform="translate(0,1361.7)"><g id="n26-1" class="Y"><use href="#kl" x="82"/></g><g id="n26-2" class="Y"><use href="#kl" x="133.2"/></g><g id="n26-3" class="Y"><use href="#kl" x="184.4"/></g><g id="n26-4" class="Y"><use href="#kl" x="235.6"/></g><g id="n26-5" class="R"><use href="#kl" x="286.8"/></g><g id="n26-6" class="R"><use href="#kl" x="338"/></g><g id="n26-7" class="R"><use href="#kl" x="389.2"/></g><g id="n26-8" class="R"><use href="#kl" x="440.4"/></g></g>
<g id="row27" transform="translate(0,1413.7)"><g id="n27-1" class="Y"><use href="#kr" x="82"/></g><g id="n27-2" class="Y"><use href="#kr" x="133.2"/></g><g id="n27-3" class="Y"><use href="#kr" x="184.4"/></g><g id="n27-4" class="Y"><use href="#kr" x="235.6"/></g><g id="n27-5" class="R"><use href="#kr" x="286.8"/></g><g id="n27-6" class="R"><use href="#kr" x="338"/></g><g id="n27-7" class="R"><use href="#kr" x="389.2"/></g><g id="n27-8" class="R"><use href="#kr" x="440.4"/></g></g>
<g id="row28" transform="translate(0,1465.7)"><g id="n28-1" class="Y"><use href="#kl" x="82"/></g><g id="n28-2" class="Y"><use href="#kl" x="133.2"/></g><g id="n28-3" class="Y"><use href="#kl" x="184.4"/></g><g id="n28-4" class="Y"><use href="#kl" x="235.6"/></g><g id="n28-5" class="R"><use href="#kl" x="286.8"/></g><g id="n28-6" class="R"><use href="#kl" x="338"/></g><g id="n28-7" class="R"><use href="#kl" x="389.2"/></g><g id="n28-8" class="R"><use href="#kl" x="440.4"/></g></g>
<g id="row29" transform="translate(0,1517.7)"><g id="n29-1" class="R"><use href="#kr" x="82"/></g><g id="n29-2" class="D"><use href="#kr" x="133.2"/></g><g id="n29-3" class="R"><use href="#kr" x="184.4"/></g><g id="n29-4" class="D"><use href="#kr" x="235.6"/></g><g id="n29-5" class="T"><use href="#kr" x="286.8"/></g><g id="n29-6" class="T"><use href="#kr" x="338"/></g><g id="n29-7" class="T"><use href="#kr" x="389.2"/></g><g id="n29-8" class="T"><use href="#kr" x="440.4"/></g></g>
<g id="row30" transform="translate(0,1569.7)"><g id="n30-1" class="D"><use href="#kl" x="82"/></g><g id="n30-2" class="R"><use href="#kl" x="133.2"/></g><g id="n30-3" class="D"><use href="#kl" x="184.4"/></g><g id="n30-4" class="R"><use href="#kl" x="235.6"/></g><g id="n30-5" class="T"><use href="#kl" x="286.8"/></g><g id="n30-6" class="T"><use href="#kl" x="338"/></g><g id="n30-7" class="T"><use href="#kl" x="389.2"/></g><g id="n30-8" class="T"><use href="#kl" x="440.4"/></g></g>
<g id="row31" transform="translate(0,1621.7)"><g id="n31-1" class="R"><use href="#kr" x="82"/></g><g id="n31-2" class="D"><use href="#kr" x="133.2"/></g><g id="n31-3" class="R"><use href="#kr" x="184.4"/></g><g id="n31-4" class="D"><use href="#kr" x="235.6"/></g><g id="n31-5" class="T"><use href="#kr" x="286.8"/></g><g id="n31-6" class="T"><use href="#kr" x="338"/></g><g id="n31-7" class="T"><use href="#kr" x="389.2"/></g><g id="n31-8" class="T"><use href="#kr" x="440.4"/></g></g>
<g id="row32" transform="translate(0,1673.7)"><g id="n32-1" class="D"><use href="#kl" x="82"/></g><g id="n32-2" class="R"><use href="#kl" x="133.2"/></g><g id="n32-3" class="D"><use href="#kl" x="184.4"/></g><g id="n32-4" class="R"><use href="#kl" x="235.6"/></g><g id="n32-5" class="T"><use href="#kl" x="286.8"/></g><g id="n32-6" class="T"><use href="#kl" x="338"/></g><g id="n32-7" class="T"><use href="#kl" x="389.2"/></g><g id="n32-8" class="T"><use href="#kl" x="440.4"/></g></g>
<g id="row33" transform="translate(0,1725.7)"><g id="n33-1" class="G"><use href="#kr" x="82"/></g><g id="n33-2" class="G"><use href="#kr" x="133.2"/></g><g id="n33-3" class="G"><use href="#kr" x="184.4"/></g><g id="n33-4" class="G"><use href="#kr" x="235.6"/></g><g id="n33-5" class="D"><use href="#kr" x="286.8"/></g><g id="n33-6" class="D"><use href="#kr" x="338"/></g><g id="n33-7" class="D"><use href="#kr" x="389.2"/></g><g id="n33-8" class="D"><use href="#kr" x="440.4"/></g></g>
<g id="row34" transform="translate(0,1777.7)"><g id="n34-1" class="G"><use href="#kl" x="82"/></g><g id="n34-2" class="G"><use href="#kl" x="133.2"/></g><g id="n34-3" class="G"><use href="#kl" x="184.4"/></g><g id="n34-4" class="G"><use href="#kl" x="235.6"/></g><g id="n34-5" class="D"><use href="#kl" x="286.8"/></g><g id="n34-6" class="D"><use href="#kl" x="338"/></g><g id="n34-7" class="D"><use href="#kl" x="389.2"/></g><g id="n34-8" class="D"><use href="#kl" x="440.4"/></g></g>
<g id="row35" transform="translate(0,1829.7)"><g id="n35-1" class="G"><use href="#kr" x="82"/></g><g id="n35-2" class="G"><use href="#kr" x="133.2"/></g><g id="n35-3" class="G"><use href="#kr" x="184.4"/></g><g id="n35-4" class="G"><use href="#kr" x="235.6"/></g><g id="n35-5" class="D"><use href="#kr" x="286.8"/></g><g id="n35-6" class="D"><use href="#kr" x="338"/></g><g id="n35-7" class="D"><use href="#kr" x="389.2"/></g><g id="n35-8" class="D"><use href="#kr" x="440.4"/></g></g>
<g id="row36" transform="translate(0,1881.7)"><g id="n36-1" class="G"><use href="#kl" x="82"/></g><g id="n36-2" class="G"><use href="#kl" x="133.2"/></g><g id="n36-3" class="G"><use href="#kl" x="184.4"/></g><g id="n36-4" class="G"><use href="#kl" x="235.6"/></g><g id="n36-5" class="D"><use href="#kl" x="286.8"/></g><g id="n36-6" class="D"><use href="#kl" x="338"/></g><g id="n36-7" class="D"><use href="#kl" x="389.2"/></g><g id="n36-8" class="D"><use href="#kl" x="440.4"/></g></g>
<g id="row37" transform="translate(0,1933.7)"><g id="n37-1" class="T"><use href="#kr" x="82"/></g><g id="n37-2" class="T"><use href="#kr" x="133.2"/></g><g id="n37-3" class="T"><use href="#kr" x="184.4"/></g><g id="n37-4" class="T"><use href="#kr" x="235.6"/></g><g id="n37-5" class="R"><use href="#kr" x="286.8"/></g><g id="n37-6" class="R"><use href="#kr" x="338"/></g><g id="n37-7" class="R"><use href="#kr" x="389.2"/></g><g id="n37-8" class="R"><use href="#kr" x="440.4"/></g></g>
<g id="row38" transform="translate(0,1985.7)"><g id="n38-1" class="T"><use href="#kl" x="82"/></g><g id="n38-2" class="T"><use href="#kl" x="133.2"/></g><g id="n38-3" class="T"><use href="#kl" x="184.4"/></g><g id="n38-4" class="T"><use href="#kl" x="235.6"/></g><g id="n38-5" class="R"><use href="#kl" x="286.8"/></g><g id="n38-6" class="R"><use href="#kl" x="338"/></g><g id="n38-7" class="R"><use href="#kl" x="389.2"/></g><g id="n38-8" class="R"><use href="#kl" x="440.4"/></g></g>
<g id="row39" transform="translate(0,2037.7)"><g id="n39-1" class="T"><use href="#kr" x="82"/></g><g id="n39-2" class="T"><use href="#kr" x="133.2"/></g><g id="n39-3" class="T"><use href="#kr" x="184.4"/></g><g id="n39-4" class="T"><use href="#kr" x="235.6"/></g><g id="n39-5" class="R"><use href="#kr" x="286.8"/></g><g id="n39-6" class="R"><use href="#kr" x="338"/></g><g id="n39-7" class="R"><use href="#kr" x="389.2"/></g><g id="n39-8" class="R"><use href="#kr" x="440.4"/></g></g>
<g id="row40" transform="translate(0,2089.7)"><g id="n40-1" class="T"><use href="#kl" x="82"/></g><g id="n40-2" class="T"><use href="#kl" x="133.2"/></g><g id="n40-3" class="T"><use href="#kl" x="184.4"/></g><g id="n40-4" class="T"><use href="#kl" x="235.6"/></g><g id="n40-5" class="R"><use href="#kl" x="286.8"/></g><g id="n40-6" class="R"><use href="#kl" x="338"/></g><g id="n40-7" class="R"><use href="#kl" x="389.2"/></g><g id="n40-8" class="R"><use href="#kl" x="440.4"/></g></g>
<g id="row41" transform="translate(0,2141.7)"><g id="n41-1" class="R"><use href="#kr" x="82"/></g><g id="n41-2" class="D"><use href="#kr" x="133.2"/></g><g id="n41-3" class="R"><use href="#kr" x="184.4"/></g><g id="n41-4" class="D"><use href="#kr" x="235.6"/></g><g id="n41-5" class="Y"><use href="#kr" x="286.8"/></g><g id="n41-6" class="Y"><use href="#kr" x="338"/></g><g id="n41-7" class="Y"><use href="#kr" x="389.2"/></g><g id="n41-8" class="Y"><use href="#kr" x="440.4"/></g></g>
<g id="row42" transform="translate(0,2193.7)"><g id="n42-1" class="D"><use href="#kl" x="82"/></g><g id="n42-2" class="R"><use href="#kl" x="133.2"/></g><g id="n42-3" class="D"><use href="#kl" x="184.4"/></g><g id="n42-4" class="R"><use href="#kl" x="235.6"/></g><g id="n42-5" class="Y"><use href="#kl" x="286.8"/></g><g id="n42-6" class="Y"><use href="#kl" x="338"/></g><g id="n42-7" class="Y"><use href="#kl" x="389.2"/></g><g id="n42-8" class="Y"><use href="#kl" x="440.4"/></g></g>
<g id="row43" transform="translate(0,2245.7)"><g id="n43-1" class="R"><use href="#kr" x="82"/></g><g id="n43-2" class="D"><use href="#kr" x="133.2"/></g><g id="n43-3" class="R"><use href="#kr" x="184.4"/></g><g id="n43-4" class="D"><use href="#kr" x="235.6"/></g><g id="n43-5" class="Y"><use href="#kr" x="286.8"/></g><g id="n43-6" class="Y"><use href="#kr" x="338"/></g><g id="n43-7" class="Y"><use href="#kr" x="389.2"/></g><g id="n43-8" class="Y"><use href="#kr" x="440.4"/></g></g>
<g id="row44" transform="translate(0,2297.7)"><g id="n44-1" class="D"><use href="#kl" x="82"/></g><g id="n44-2" class="R"><use href="#kl" x="133.2"/></g><g id="n44-3" class="D"><use href="#kl" x="184.4"/></g><g id="n44-4" class="R"><use href="#kl" x="235.6"/></g><g id="n44-5" class="Y"><use href="#kl" x="286.8"/></g><g id="n44-6" class="Y"><use href="#kl" x="338"/></g><g id="n44-7" class="Y"><use href="#kl" x="389.2"/></g><g id="n44-8" class="Y"><use href="#kl" x="440.4"/></g></g>
<g id="row45" transform="translate(0,2349.7)"><g id="n45-1" class="G"><use href="#kr" x="82"/></g><g id="n45-2" class="G"><use href="#kr" x="133.2"/></g><g id="n45-3" class="G"><use href="#kr" x="184.4"/></g><g id="n45-4" class="G"><use href="#kr" x="235.6"/></g><g id="n45-5" class="D"><use href="#kr" x="286.8"/></g><g id="n45-6" class="D"><use href="#kr" x="338"/></g><g id="n45-7" class="D"><use href="#kr" x="389.2"/></g><g id="n45-8" class="D"><use href="#kr" x="440.4"/></g></g>
<g id="row46" transform="translate(0,2401.7)"><g id="n46-1" class="G"><use href="#kl" x="82"/></g><g id="n46-2" class="G"><use href="#kl" x="133.2"/></g><g id="n46-3" class="G"><use href="#kl" x="184.4"/></g><g id="n46-4" class="G"><use href="#kl" x="235.6"/></g><g id="n46-5" class="D"><use href="#kl" x="286.8"/></g><g id="n46-6" class="D"><use href="#kl" x="338"/></g><g id="n46-7" class="D"><use href="#kl" x="389.2"/></g><g id="n46-8" class="D"><use href="#kl" x="440.4"/></g></g>
<g id="row47" transform="translate(0,2453.7)"><g id="n47-1" class="G"><use href="#kr" x="82"/></g><g id="n47-2" class="G"><use href="#kr" x="133.2"/></g><g id="n47-3" class="G"><use href="#kr" x="184.4"/></g><g id="n47-4" class="G"><use href="#kr" x="235.6"/></g><g id="n47-5" class="D"><use href="#kr" x="286.8"/></g><g id="n47-6" class="D"><use href="#kr" x="338"/></g><g id="n47-7" class="D"><use href="#kr" x="389.2"/></g><g id="n47-8" class="D"><use href="#kr" x="440.4"/></g></g>
<g id="row48" transform="translate(0,2505.7)"><g id="n48-1" class="G"><use href="#kl" x="82"/></g><g id="n48-2" class="G"><use href="#kl" x="133.2"/></g><g id="n48-3" class="G"><use href="#kl" x="184.4"/></g><g id="n48-4" class="G"><use href="#kl" x="235.6"/></g><g id="n48-5" class="D"><use href="#kl" x="286.8"/></g><g id="n48-6" class="D"><use href="#kl" x="338"/></g><g id="n48-7" class="D"><use href="#kl" x="389.2"/></g><g id="n48-8" class="D"><use href="#kl" x="440.4"/></g></g>
<g id="row49" transform="translate(0,2557.7)"><g id="n49-1" class="R"><use href="#kr" x="82"/></g><g id="n49-2" class="R"><use href="#kr" x="133.2"/></g><g id="n49-3" class="R"><use href="#kr" x="184.4"/></g><g id="n49-4" class="R"><use href="#kr" x="235.6"/></g><g id="n49-5" class="T"><use href="#kr" x="286.8"/></g><g id="n49-6" class="T"><use href="#kr" x="338"/></g><g id="n49-7" class="T"><use href="#kr" x="389.2"/></g><g id="n49-8" class="T"><use href="#kr" x="440.4"/></g></g>
<g id="row50" transform="translate(0,2609.7)"><g id="n50-1" class="R"><use href="#kl" x="82"/></g><g id="n50-2" class="R"><use href="#kl" x="133.2"/></g><g id="n50-3" class="R"><use href="#kl" x="184.4"/></g><g id="n50-4" class="R"><use href="#kl" x="235.6"/></g><g id="n50-5" class="T"><use href="#kl" x="286.8"/></g><g id="n50-6" class="T"><use href="#kl" x="338"/></g><g id="n50-7" class="T"><use href="#kl" x="389.2"/></g><g id="n50-8" class="T"><use href="#kl" x="440.4"/></g></g>
<g id="row51" transform="translate(0,2661.7)"><g id="n51-1" class="R"><use href="#kr" x="82"/></g><g id="n51-2" class="R"><use href="#kr" x="133.2"/></g><g id="n51-3" class="R"><use href="#kr" x="184.4"/></g><g id="n51-4" class="R"><use href="#kr" x="235.6"/></g><g id="n51-5" class="T"><use href="#kr" x="286.8"/></g><g id="n51-6" class="T"><use href="#kr" x="338"/></g><g id="n51-7" class="T"><use href="#kr" x="389.2"/></g><g id="n51-8" class="T"><use href="#kr" x="440.4"/></g></g>
<g id="row52" transform="translate(0,2713.7)"><g id="n52-1" class="R"><use href="#kl" x="82"/></g><g id="n52-2" class="R"><use href="#kl" x="133.2"/></g><g id="n52-3" class="R"><use href="#kl" x="184.4"/></g><g id="n52-4" class="R"><use href="#kl" x="235.6"/></g><g id="n52-5" class="T"><use href="#kl" x="286.8"/></g><g id="n52-6" class="T"><use href="#kl" x="338"/></g><g id="n52-7" class="T"><use href="#kl" x="389.2"/></g><g id="n52-8" class="T"><use href="#kl" x="440.4"/></g></g>
<g id="row53" transform="translate(0,2765.7)"><g id="n53-1" class="Y"><use href="#kr" x="82"/></g><g id="n53-2" class="Y"><use href="#kr" x="133.2"/></g><g id="n53-3" class="Y"><use href="#kr" x="184.4"/></g><g id="n53-4" class="Y"><use href="#kr" x="235.6"/></g><g id="n53-5" class="R"><use href="#kr" x="286.8"/></g><g id="n53-6" class="D"><use href="#kr" x="338"/></g><g id="n53-7" class="R"><use href="#kr" x="389.2"/></g><g id="n53-8" class="D"><use href="#kr" x="440.4"/></g></g>
<g id="row54" transform="translate(0,2817.7)"><g id="n54-1" class="Y"><use href="#kl" x="82"/></g><g id="n54-2" class="Y"><use href="#kl" x="133.2"/></g><g id="n54-3" class="Y"><use href="#kl" x="184.4"/></g><g id="n54-4" class="Y"><use href="#kl" x="235.6"/></g><g id="n54-5" class="D"><use href="#kl" x="286.8"/></g><g id="n54-6" class="R"><use href="#kl" x="338"/></g><g id="n54-7" class="D"><use href="#kl" x="389.2"/></g><g id="n54-8" class="R"><use href="#kl" x="440.4"/></g></g>
<g id="row55" transform="translate(0,2869.7)"><g id="n55-1" class="Y"><use href="#kr" x="82"/></g><g id="n55-2" class="Y"><use href="#kr" x="133.2"/></g><g id="n55-3" class="Y"><use href="#kr" x="184.4"/></g><g id="n55-4" class="Y"><use href="#kr" x="235.6"/></g><g id="n55-5" class="R"><use href="#kr" x="286.8"/></g><g id="n55-6" class="D"><use href="#kr" x="338"/></g><g id="n55-7" class="R"><use href="#kr" x="389.2"/></g><g id="n55-8" class="D"><use href="#kr" x="440.4"/></g></g>
<g id="row56" transform="translate(0,2921.7)"><g id="n56-1" class="Y"><use href="#kl" x="82"/></g><g id="n56-2" class="Y"><use href="#kl" x="133.2"/></g><g id="n56-3" class="Y"><use href="#kl" x="184.4"/></g><g id="n56-4" class="Y"><use href="#kl" x="235.6"/></g><g id="n56-5" class="D"><use href="#kl" x="286.8"/></g><g id="n56-6" class="R"><use href="#kl" x="338"/></g><g id="n56-7" class="D"><use href="#kl" x="389.2"/></g><g id="n56-8" class="R"><use href="#kl" x="440.4"/></g></g>
<g id="row57" transform="translate(0,2973.7)"><g id="n57-1" class="D"><use href="#kr" x="82"/></g><g id="n57-2" class="D"><use href="#kr" x="133.2"/></g><g id="n57-3" class="D"><use href="#kr" x="184.4"/></g><g id="n57-4" class="D"><use href="#kr" x="235.6"/></g><g id="n57-5" class="R"><use href="#kr" x="286.8"/></g><g id="n57-6" class="R"><use href="#kr" x="338"/></g><g id="n57-7" class="R"><use href="#kr" x="389.2"/></g><g id="n57-8" class="R"><use href="#kr" x="440.4"/></g></g>
<g id="row58" transform="translate(0,3025.7)"><g id="n58-1" class="D"><use href="#kl" x="82"/></g><g id="n58-2" class="D"><use href="#kl" x="133.2"/></g><g id="n58-3" class="D"><use href="#kl" x="184.4"/></g><g id="n58-4" class="D"><use href="#kl" x="235.6"/></g><g id="n58-5" class="R"><use href="#kl" x="286.8"/></g><g id="n58-6" class="R"><use href="#kl" x="338"/></g><g id="n58-7" class="R"><use href="#kl" x="389.2"/></g><g id="n58-8" class="R"><use href="#kl" x="440.4"/></g></g>
<g id="row59" transform="translate(0,3077.7)"><g id="n59-1" class="D"><use href="#kr" x="82"/></g><g id="n59-2" class="D"><use href="#kr" x="133.2"/></g><g id="n59-3" class="D"><use href="#kr" x="184.4"/></g><g id="n59-4" class="D"><use href="#kr" x="235.6"/></g><g id="n59-5" class="R"><use href="#kr" x="286.8"/></g><g id="n59-6" class="R"><use href="#kr" x="338"/></g><g id="n59-7" class="R"><use href="#kr" x="389.2"/></g><g id="n59-8" class="R"><use href="#kr" x="440.4"/></g></g>
<g id="row60" transform="translate(0,3129.7)"><g id="n60-1" class="D"><use href="#kl" x="82"/></g><g id="n60-2" class="D"><use href="#kl" x="133.2"/></g><g id="n60-3" class="D"><use href="#kl" x="184.4"/></g><g id="n60-4" class="D"><use href="#kl" x="235.6"/></g><g id="n60-5" class="R"><use href="#kl" x="286.8"/></g><g id="n60-6" class="R"><use href="#kl" x="338"/></g><g id="n60-7" class="R"><use href="#kl" x="389.2"/></g><g id="n60-8" class="R"><use href="#kl" x="440.4"/></g></g>
</g>
<g id="row-numbers">
<text class="num ln" x="21" y="66.2">1</text><text class="num" x="501" y="66.2">1</text>
<text class="num ln" x="21" y="118.2">2</text><text class="num" x="501" y="118.2">2</text>
<text class="num ln" x="21" y="170.2">3</text><text class="num" x="501" y="170.2">3</text>
<text class="num ln" x="21" y="222.2">4</text><text class="num" x="501" y="222.2">4</text>
<text class="num ln" x="21" y="274.2">5</text><text class="num" x="501" y="274.2">5</text>
<text class="num ln" x="21" y="326.2">6</text><text class="num" x="501" y="326.2">6</text>
<text class="num ln" x="21" y="378.2">7</text><text class="num" x="501" y="378.2">7</text>
<text class="num ln" x="21" y="430.2">8</text><text class="num" x="501" y="430.2">8</text>
<text class="num ln" x="21" y="482.2">9</text><text class="num" x="501" y="482.2">9</text>
<text class="num ln" x="21" y="534.2">10</text><text class="num" x="501" y="534.2">10</text>
<text class="num ln" x="21" y="586.2">11</text><text class="num" x="501" y="586.2">11</text>
<text class="num ln" x="21" y="638.2">12</text><text class="num" x="501" y="638.2">12</text>
<text class="num ln" x="21" y="690.2">13</text><text class="num" x="501" y="690.2">13</text>
<text class="num ln" x="21" y="742.2">14</text><text class="num" x="501" y="742.2">14</text>
<text class="num ln" x="21" y="794.2">15</text><text class="num" x="501" y="794.2">15</text>
<text class="num ln" x="21" y="846.2">16</text><text class="num" x="501" y="846.2">16</text>
<text class="num ln" x="21" y="898.2">17</text><text class="num" x="501" y="898.2">17</text>
<text class="num ln" x="21" y="950.2">18</text><text class="num" x="501" y="950.2">18</text>
<text class="num ln" x="21" y="1002.2">19</text><text class="num" x="501" y="1002.2">19</text>
<text class="num ln" x="21" y="1054.2">20</text><text class="num" x="501" y="1054.2">20</text>
<text class="num ln" x="21" y="1106.2">21</text><text class="num" x="501" y="1106.2">21</text>
<text class="num ln" x="21" y="1158.2">22</text><text class="num" x="501" y="1158.2">22</text>
<text class="num ln" x="21" y="1210.2">23</text><text class="num" x="501" y="1210.2">23</text>
<text class="num ln" x="21" y="1262.2">24</text><text class="num" x="501" y="1262.2">24</text>
<text class="num ln" x="21" y="1314.2">25</text><text class="num" x="501" y="1314.2">25</text>
<text class="num ln" x="21" y="1366.2">26</text><text class="num" x="501" y="1366.2">26</text>
<text class="num ln" x="21" y="1418.2">27</text><text class="num" x="501" y="1418.2">27</text>
<text class="num ln" x="21" y="1470.2">28</text><text class="num" x="501" y="1470.2">28</text>
<text class="num ln" x="21" y="1522.2">29</text><text class="num" x="501" y="1522.2">29</text>
<text class="num ln" x="21" y="1574.2">30</text><text class="num" x="501" y="1574.2">30</text>
<text class="num ln" x="21" y="1626.2">31</text><text class="num" x="501" y="1626.2">31</text>
<text class="num ln" x="21" y="1678.2">32</text><text class="num" x="501" y="1678.2">32</text>
<text class="num ln" x="21" y="1730.2">33</text><text class="num" x="501" y="1730.2">33</text>
<text class="num ln" x="21" y="1782.2">34</text><text class="num" x="501" y="1782.2">34</text>
<text class="num ln" x="21" y="1834.2">35</text><text class="num" x="501" y="1834.2">35</text>
<text class="num ln" x="21" y="1886.2">36</text><text class="num" x="501" y="1886.2">36</text>
<text class="num ln" x="21" y="1938.2">37</text><text class="num" x="501" y="1938.2">37</text>
<text class="num ln" x="21" y="1990.2">38</text><text class="num" x="501" y="1990.2">38</text>
<text class="num ln" x="21" y="2042.2">39</text><text class="num" x="501" y="2042.2">39</text>
<text class="num ln" x="21" y="2094.2">40</text><text class="num" x="501" y="2094.2">40</text>
<text class="num ln" x="21" y="2146.2">41</text><text class="num" x="501" y="2146.2">41</text>
<text class="num ln" x="21" y="2198.2">42</text><text class="num" x="501" y="2198.2">42</text>
<text class="num ln" x="21" y="2250.2">43</text><text class="num" x="501" y="2250.2">43</text>
<text class="num ln" x="21" y="2302.2">44</text><text class="num" x="501" y="2302.2">44</text>
<text class="num ln" x="21" y="2354.2">45</text><text class="num" x="501" y="2354.2">45</text>
<text class="num ln" x="21" y="2406.2">46</text><text class="num" x="501" y="2406.2">46</text>
<text class="num ln" x="21" y="2458.2">47</text><text class="num" x="501" y="2458.2">47</text>
<text class="num ln" x="21" y="2510.2">48</text><text class="num" x="501" y="2510.2">48</text>
<text class="num ln" x="21" y="2562.2">49</text><text class="num" x="501" y="2562.2">49</text>
<text class="num ln" x="21" y="2614.2">50</text><text class="num" x="501" y="2614.2">50</text>
<text class="num ln" x="21" y="2666.2">51</text><text class="num" x="501" y="2666.2">51</text>
<text class="num ln" x="21" y="2718.2">52</text><text class="num" x="501" y="2718.2">52</text>
<text class="num ln" x="21" y="2770.2">53</text><text class="num" x="501" y="2770.2">53</text>
<text class="num ln" x="21" y="2822.2">54</text><text class="num" x="501" y="2822.2">54</text>
<text class="num ln" x="21" y="2874.2">55</text><text class="num" x="501" y="2874.2">55</text>
<text class="num ln" x="21" y="2926.2">56</text><text class="num" x="501" y="2926.2">56</text>
<text class="num ln" x="21" y="2978.2">57</text><text class="num" x="501" y="2978.2">57</text>
<text class="num ln" x="21" y="3030.2">58</text><text class="num" x="501" y="3030.2">58</text>
<text class="num ln" x="21" y="3082.2">59</text><text class="num" x="501" y="3082.2">59</text>
<text class="num ln" x="21" y="3134.2">60</text><text class="num" x="501" y="3134.2">60</text>
</g>
<text class="wm" x="261" y="1601">BRACELETBOOK.COM</text>
</svg>
